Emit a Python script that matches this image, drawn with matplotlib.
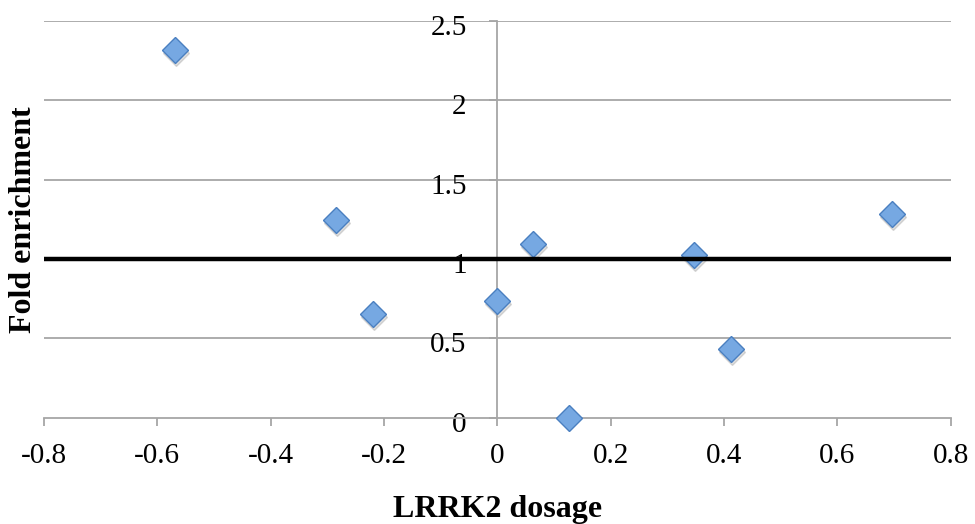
import matplotlib.pyplot as plt
from matplotlib.transforms import ScaledTranslation

# LRRK2 dosage vs fold enrichment
dosage = [-0.568, -0.284, -0.219, 0.0, 0.063, 0.127, 0.348, 0.412, 0.697]
enrichment = [2.317, 1.246, 0.655, 0.737, 1.094, 0.0, 1.025, 0.431, 1.281]

x_ticks = [-0.8, -0.6, -0.4, -0.2, 0, 0.2, 0.4, 0.6, 0.8]
x_labels = ['-0.8', '-0.6', '-0.4', '-0.2', '0', '0.2', '0.4', '0.6', '0.8']
y_ticks = [0, 0.5, 1, 1.5, 2, 2.5]
y_labels = ['0', '0.5', '1', '1.5', '2', '2.5']
baseline = 1

plt.rcParams['font.family'] = ['Liberation Serif', 'DejaVu Serif']

fig = plt.figure(figsize=(9.75, 5.24), dpi=100)
ax = fig.add_axes([0.045, 0.203, 0.93, 0.757])

grey = '#a6a6a6'
ax.set_xlim(-0.8, 0.8)
ax.set_ylim(0, 2.5)

for y in y_ticks[1:]:
    ax.axhline(y, color=grey, lw=1.3, zorder=1)

ax.spines['top'].set_visible(False)
ax.spines['right'].set_visible(False)
ax.spines['left'].set_position(('data', 0))
ax.spines['left'].set_color(grey)
ax.spines['bottom'].set_color(grey)
ax.spines['left'].set_linewidth(1.3)
ax.spines['bottom'].set_linewidth(1.3)

ax.set_xticks(x_ticks)
ax.set_xticklabels(x_labels, fontsize=21)
ax.set_yticks(y_ticks)
ax.set_yticklabels(y_labels, fontsize=21)
ax.tick_params(axis='x', direction='out', length=6, width=1.3, color=grey, pad=12)
ax.tick_params(axis='y', direction='out', length=6, width=1.3, color=grey, pad=16)
for lab in ax.get_yticklabels():
    lab.set_transform(lab.get_transform() + ScaledTranslation(0, -4/100, fig.dpi_scale_trans))

# shadow then markers
ax.plot(dosage, enrichment, linestyle='none', marker='D', markersize=13.5,
        color='#000000', alpha=0.12, zorder=2,
        transform=ax.transData + ScaledTranslation(1/100, -3/100, fig.dpi_scale_trans))
ax.plot(dosage, enrichment, linestyle='none', marker='D', markersize=13.5,
        markerfacecolor='#76a8e2', markeredgecolor='#4a7fc0', markeredgewidth=1.0,
        zorder=3, clip_on=False)

ax.axhline(baseline, color='black', lw=3.2, zorder=4)

ax.set_xlabel('LRRK2 dosage', fontsize=23, fontweight='bold')
ax.set_ylabel('Fold enrichment', fontsize=23, fontweight='bold')
ax.xaxis.set_label_coords(0.5, -0.195)
ax.yaxis.set_label_coords(-0.007, 0.5)

fig.savefig('out.png', dpi=100)
